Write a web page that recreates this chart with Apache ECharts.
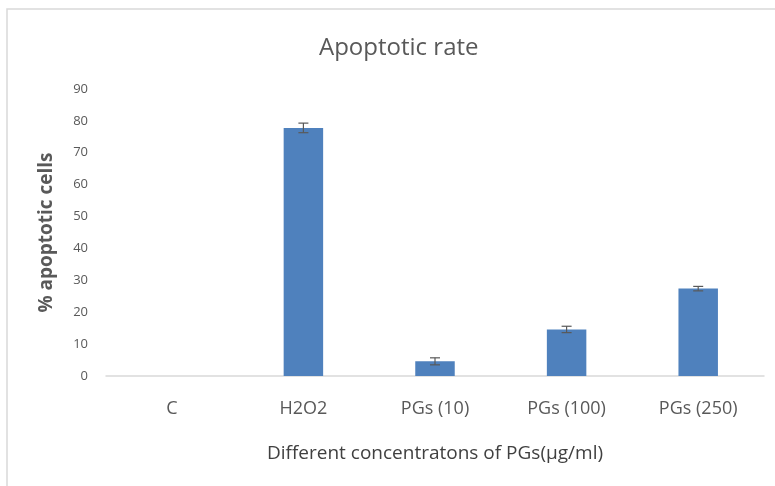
<!DOCTYPE html>
<html>
    <head>
        <meta charset="UTF-8">
        <title>Apoptotic rate</title>
        <script src="https://cdn.jsdelivr.net/npm/echarts@6/dist/echarts.min.js"></script>
        <style>
            body,html{margin:0;padding:0;background:#fff;}
            #chart{width:775px;height:486px;}
        </style>
    </head>
    <body>
        <div id="chart"></div>
        <script type="text/javascript">
          // data
          var categories = ['C', 'H2O2', 'PGs (10)', 'PGs (100)', 'PGs (250)'];
          var rates = [0, 77.8, 4.6, 14.6, 27.4];
          var errors = [0, 1.5, 1.1, 1.0, 0.7];
          var yTicks = [0, 10, 20, 30, 40, 50, 60, 70, 80, 90];

          var errData = [];
          for (var i = 0; i < categories.length; i++) {
              if (errors[i] > 0) errData.push([i, rates[i] - errors[i], rates[i] + errors[i]]);
          }

          var chart = echarts.init(document.getElementById('chart'));
          var option = {
              animation: false,
              textStyle: {fontFamily: 'Open Sans'},
              title: {
                  text: 'Apoptotic rate',
                  left: 314,
                  top: 31,
                  textStyle: {fontSize: 24, fontWeight: 'normal', color: '#595959', fontFamily: 'Open Sans'}
              },
              graphic: [{
                  type: 'polyline',
                  shape: {points: [[7, 486], [7, 9], [775, 9]]},
                  style: {stroke: '#d9d9d9', lineWidth: 1.5, fill: null}
              }],
              grid: {left: 106, right: 11, top: 89, bottom: 110},
              xAxis: {
                  type: 'category',
                  data: categories,
                  name: 'Different concentratons of PGs(\u00b5g/ml)',
                  nameLocation: 'middle',
                  nameGap: 68,
                  nameTextStyle: {fontSize: 19, color: '#404040'},
                  axisLine: {lineStyle: {color: '#d9d9d9', width: 1.5}},
                  axisTick: {show: false},
                  axisLabel: {fontSize: 18, color: '#595959', margin: 24}
              },
              yAxis: {
                  type: 'value',
                  min: yTicks[0],
                  max: yTicks[yTicks.length - 1],
                  interval: 10,
                  name: '% apoptotic cells',
                  nameLocation: 'middle',
                  nameGap: 50,
                  nameTextStyle: {fontSize: 19, fontWeight: 'bold', color: '#595959'},
                  axisLine: {show: false},
                  axisTick: {show: false},
                  splitLine: {show: false},
                  axisLabel: {fontSize: 13, color: '#595959', margin: 18}
              },
              series: [
                  {
                      name: 'Apoptotic rate',
                      type: 'bar',
                      data: rates,
                      barWidth: '30%',
                      itemStyle: {color: '#4f81bd'}
                  },
                  {
                      name: 'error',
                      type: 'custom',
                      data: errData,
                      z: 10,
                      renderItem: function (params, api) {
                          var x = api.value(0);
                          var lo = api.coord([x, api.value(1)]);
                          var hi = api.coord([x, api.value(2)]);
                          var w = 5;
                          var st = {stroke: '#595959', lineWidth: 1.2};
                          return {
                              type: 'group',
                              children: [
                                  {type: 'line', shape: {x1: hi[0], y1: hi[1], x2: lo[0], y2: lo[1]}, style: st},
                                  {type: 'line', shape: {x1: hi[0] - w, y1: hi[1], x2: hi[0] + w, y2: hi[1]}, style: st},
                                  {type: 'line', shape: {x1: lo[0] - w, y1: lo[1], x2: lo[0] + w, y2: lo[1]}, style: st}
                              ]
                          };
                      }
                  }
              ]
          };
          chart.setOption(option);
        </script>
    </body>
</html>
